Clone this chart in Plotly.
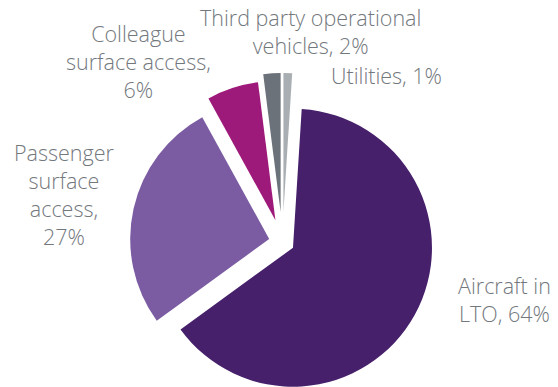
import math
import plotly.graph_objects as go

# ---- data ----
categories = ["Aircraft in LTO", "Passenger surface access", "Colleague surface access",
              "Third party operational vehicles", "Utilities"]
values = [64, 27, 6, 2, 1]

# ---- style ----
colors = ["#46206B", "#7B5CA3", "#9E1A7A", "#6B7279", "#A9AEB2"]
explode = [0.086, 0.098, 0.165, 0.216, 0.216]   # fraction of radius
label_text = ["Aircraft in<br>LTO, {v}%", "Passenger<br>surface<br>access,<br>{v}%",
              "Colleague<br>surface access,<br>{v}%", "Third party operational<br>vehicles, {v}%",
              "Utilities, {v}%"]
label_pos = [(504, 299), (64, 194), (138, 61), (310, 32), (386, 76)]
W, H = 558, 387
R = 139.0
CX, CY = 282.5, 242.0
ROT = 3.6
text_color = "#73787D"

fig = go.Figure()
total = sum(values)
cum = 0.0
for i, v in enumerate(values):
    mid = math.radians(ROT + 360.0 * (cum + v / 2) / total)
    cum += v
    cx = CX + explode[i] * R * math.sin(mid)
    cy = CY - explode[i] * R * math.cos(mid)
    dx = [max(0.0, (cx - R) / W), min(1.0, (cx + R) / W)]
    dy = [max(0.0, (H - cy - R) / H), min(1.0, (H - cy + R) / H)]
    cols = ["rgba(0,0,0,0)"] * len(values)
    cols[i] = colors[i]
    fig.add_trace(go.Pie(
        labels=categories, values=values, sort=False, direction="clockwise",
        rotation=ROT, marker=dict(colors=cols, line=dict(width=0)),
        textinfo="none", hoverinfo="skip", showlegend=False,
        domain=dict(x=dx, y=dy),
    ))

for i, v in enumerate(values):
    x, y = label_pos[i]
    fig.add_annotation(
        x=x / W, y=1 - y / H, xref="paper", yref="paper",
        text=label_text[i].format(v=v), showarrow=False,
        xanchor="center", yanchor="middle", align="center",
        font=dict(family="Open Sans", size=21.5, color=text_color, weight=300),
    )

fig.update_layout(
    width=W, height=H, margin=dict(l=0, r=0, t=0, b=0),
    paper_bgcolor="white", plot_bgcolor="white", showlegend=False,
)
fig.write_html("out.html")
